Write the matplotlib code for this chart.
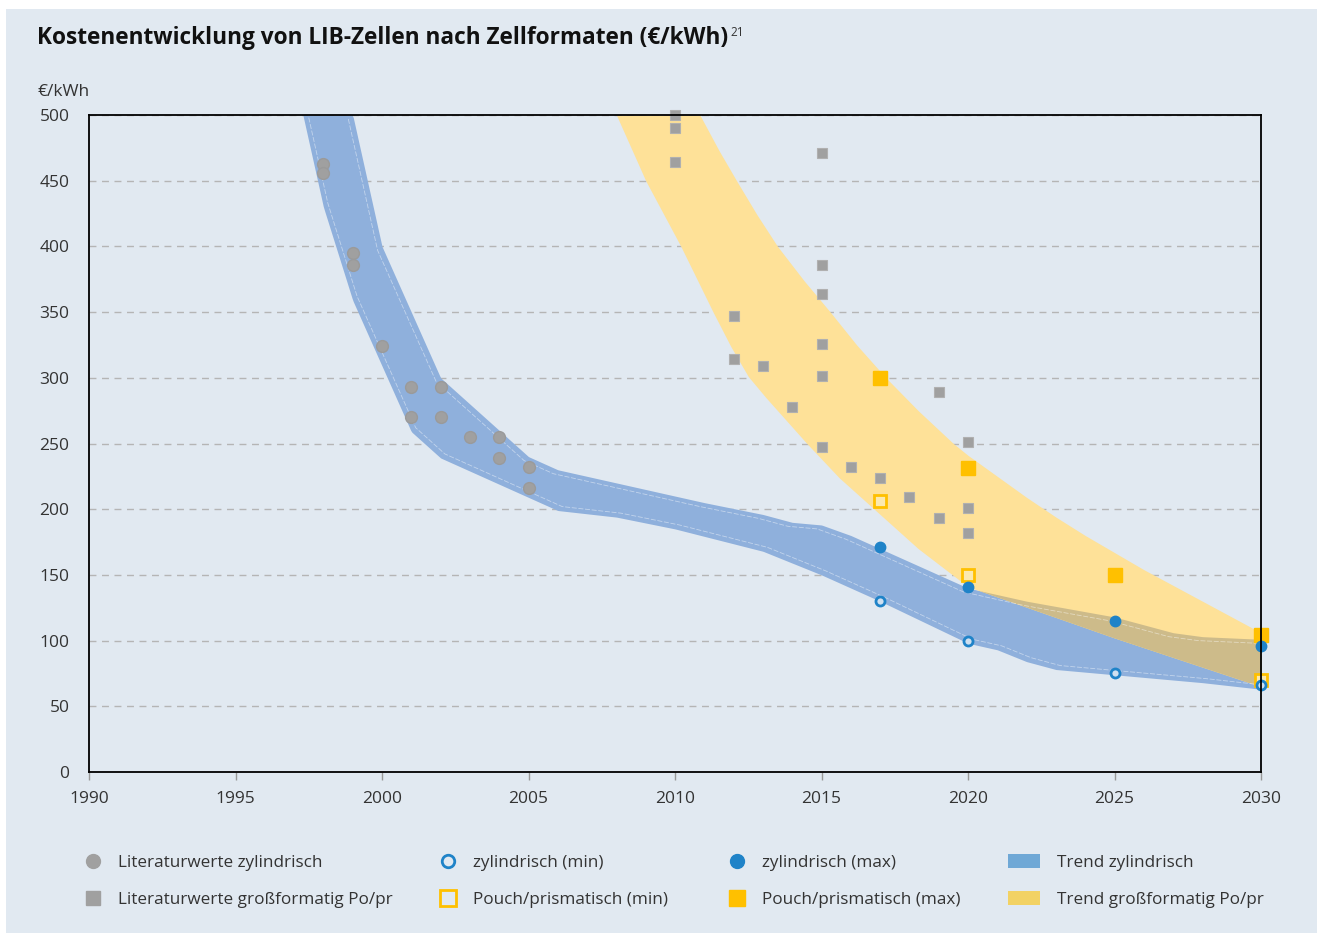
import matplotlib

matplotlib.use("Agg")
import matplotlib.pyplot as plt
import numpy as np
from matplotlib.lines import Line2D
from matplotlib.patches import Patch, Rectangle

plt.rcParams["font.family"] = ["Open Sans", "DejaVu Sans"]

BG = "#e1e9f1"
GRAY = "#a0a0a0"
BLUE = "#1f83c8"
YELLOW = "#ffc000"
BAND_BLUE = "#8fb0dc"
BAND_YELLOW = "#fee198"
OVERLAP = "#cdbb8a"
TEXT = "#333333"

# --- Literaturwerte (Streupunkte) ---
lit_cyl_year = [1998, 1998, 1999, 1999, 2000, 2001, 2002, 2001, 2002, 2003, 2004, 2004, 2005, 2005]
lit_cyl_cost = [463, 456, 395, 386, 324, 293, 293, 270, 270, 255, 255, 239, 232, 216]

lit_big_year = [2010, 2010, 2010, 2015, 2012, 2012, 2013, 2014, 2015, 2015, 2015, 2015, 2015,
                2016, 2017, 2018, 2019, 2019, 2020, 2020, 2020]
lit_big_cost = [500, 490, 464, 471, 347, 314, 309, 278, 386, 364, 326, 301, 247,
                232, 224, 209, 289, 193, 251, 201, 182]

# --- Szenarien ---
cyl_min_year = [2017, 2020, 2025, 2030]
cyl_min_cost = [130, 100, 75.5, 66]
cyl_max_year = [2017, 2020, 2025, 2030]
cyl_max_cost = [171, 140.5, 115, 96]
pouch_min_year = [2017, 2020, 2030]
pouch_min_cost = [206, 150, 70]
pouch_max_year = [2017, 2020, 2025, 2030]
pouch_max_cost = [300, 231, 150, 104]

# --- Trendbänder ---
cyl_up_year = [1999, 2000, 2002, 2005, 2006, 2008, 2010, 2011, 2013, 2014, 2015, 2016, 2017,
               2020, 2022, 2025, 2027, 2028, 2030]
cyl_up_cost = [500, 400, 300, 240, 230, 220, 210, 205, 196, 190, 188, 180, 170,
               140, 130, 118, 106, 103, 101]
cyl_lo_year = [1997.3, 1998, 1999, 2001, 2002, 2004, 2005, 2006, 2008, 2010, 2013, 2015, 2017,
               2020, 2021, 2022, 2023, 2025, 2028, 2030]
cyl_lo_cost = [500, 430, 359, 259, 239, 219, 209, 199, 194, 185, 168, 150, 130,
               98, 93, 84, 78, 74, 68, 63]

big_up_year = [2010.85, 2011.5, 2012.1, 2012.8, 2013.5, 2014.4, 2015.3, 2016.2, 2017.2, 2018.3,
               2019.5, 2020, 2021, 2022, 2023, 2024, 2025, 2026, 2027, 2028, 2029, 2030]
big_up_cost = [500, 473, 450, 424, 400, 374, 350, 325, 300, 275,
               250, 241, 225, 209, 194, 180, 167, 154, 142, 130, 118, 106]
big_lo_year = [2008, 2009, 2010.2, 2011.3, 2011.9, 2012.5, 2013.1, 2013.7, 2014.5, 2015.6,
               2016.8, 2018.3, 2020, 2025, 2030]
big_lo_cost = [500, 450, 400, 350, 324, 301, 285, 270, 250, 224,
               200, 170, 141, 102, 65]

x_ticks = list(range(1990, 2031, 5))
y_ticks = list(range(0, 501, 50))


def band(up_x, up_y, lo_x, lo_y, x_start, x_end):
    xs = np.linspace(x_start, x_end, 800)
    up = np.interp(xs, up_x, up_y, left=500)
    lo = np.interp(xs, lo_x, lo_y)
    return xs, np.minimum(up, 500), np.minimum(lo, 500)


fig = plt.figure(figsize=(13.18, 9.33), dpi=100)
fig.patch.set_facecolor("white")
fig.patches.append(Rectangle((6 / 1318, 0), 1 - 7 / 1318, 1 - 9 / 933,
                             transform=fig.transFigure, facecolor=BG, edgecolor="none", zorder=-10))

ax = fig.add_axes([89 / 1318, 1 - 772 / 933, (1261 - 89) / 1318, (772 - 115) / 933])
ax.set_facecolor(BG)

# Bänder
bx, bup, blo = band(cyl_up_year, cyl_up_cost, cyl_lo_year, cyl_lo_cost, cyl_lo_year[0], 2030)
ax.fill_between(bx, blo, bup, color=BAND_BLUE, lw=0, zorder=2)
gx, gup, glo = band(big_up_year, big_up_cost, big_lo_year, big_lo_cost, big_lo_year[0], 2030)
ax.fill_between(gx, glo, gup, color=BAND_YELLOW, lw=0, zorder=2)

# Überlappung
ox = np.linspace(2019, 2030, 400)
o_up = np.minimum(np.interp(ox, cyl_up_year, cyl_up_cost), np.interp(ox, big_up_year, big_up_cost))
o_lo = np.maximum(np.interp(ox, cyl_lo_year, cyl_lo_cost), np.interp(ox, big_lo_year, big_lo_cost))
ax.fill_between(ox, o_lo, o_up, where=o_up > o_lo, color=OVERLAP, lw=0, zorder=3,
                interpolate=True)

# feine helle Innenlinien im blauen Band
ax.plot(np.array(cyl_up_year) - 0.15, np.array(cyl_up_cost) - 3, color="white", lw=0.6,
        alpha=0.45, ls=(0, (6, 2)), zorder=3)
ax.plot(np.array(cyl_lo_year) + 0.15, np.array(cyl_lo_cost) + 3, color="white", lw=0.6,
        alpha=0.45, ls=(0, (6, 2)), zorder=3)

# Punkte
ax.plot(lit_cyl_year, lit_cyl_cost, "o", color=GRAY, ms=8.5, mec="#9a9a9a", ls="none", zorder=5)
ax.plot(lit_big_year, lit_big_cost, "s", color=GRAY, ms=7.5, mec="#b0b0b0", mew=0.8,
        ls="none", zorder=5, clip_on=False)
ax.plot(pouch_max_year, pouch_max_cost, "s", color=YELLOW, ms=9.5, mec=YELLOW, ls="none",
        zorder=6, clip_on=False)
ax.plot(pouch_min_year, pouch_min_cost, "s", mfc="#fbe9b0", mec=YELLOW, ms=9, mew=2,
        ls="none", zorder=6, clip_on=False)
ax.plot(cyl_max_year, cyl_max_cost, "o", color=BLUE, ms=7.5, ls="none", zorder=7, clip_on=False)
ax.plot(cyl_min_year, cyl_min_cost, "o", mfc="#cfe0f0", mec=BLUE, ms=6.5, mew=2,
        ls="none", zorder=7, clip_on=False)

ax.set_xlim(1990, 2030)
ax.set_ylim(0, 500)
ax.set_xticks(x_ticks)
ax.set_yticks(y_ticks)
ax.tick_params(axis="x", length=6, width=1, color="#999999", labelcolor=TEXT, labelsize=12.5, pad=8)
ax.tick_params(axis="y", length=0, labelcolor=TEXT, labelsize=12.5, pad=14)
ax.yaxis.grid(True, color="#b5b5b5", ls=(0, (5, 4)), lw=1)
ax.set_axisbelow(True)
for s in ax.spines.values():
    s.set_color("black")
    s.set_linewidth(1.3)
    s.set_zorder(8)

title = fig.text(37 / 1318, 1 - 38 / 933, "Kostenentwicklung von LIB-Zellen nach Zellformaten (€/kWh)",
                 fontsize=16.3, fontweight="bold", color="#111111", va="center", ha="left")
fig.canvas.draw()
bb = title.get_window_extent()
fig.text((bb.x1 + 2) / 1318, 1 - 33 / 933, "21", fontsize=8.5, color=TEXT, va="center", ha="left")
fig.text(38 / 1318, 1 - 92 / 933, "€/kWh", fontsize=12.5, color=TEXT, va="center", ha="left")

# Legende in vier Spalten
cols = [
    [Line2D([], [], marker="o", color=GRAY, ls="none", ms=10, label="Literaturwerte zylindrisch"),
     Line2D([], [], marker="s", color=GRAY, ls="none", ms=10, label="Literaturwerte großformatig Po/pr")],
    [Line2D([], [], marker="o", mfc="none", mec=BLUE, mew=2, ls="none", ms=9, label="zylindrisch (min)"),
     Line2D([], [], marker="s", mfc="none", mec=YELLOW, mew=2, ls="none", ms=11, label="Pouch/prismatisch (min)")],
    [Line2D([], [], marker="o", color=BLUE, ls="none", ms=10, label="zylindrisch (max)"),
     Line2D([], [], marker="s", color=YELLOW, ls="none", ms=11, label="Pouch/prismatisch (max)")],
]
col_x = [79, 434, 723]
legend_top = 1 - 855 / 933
for handles, x in zip(cols, col_x):
    fig.legend(handles=handles, loc="upper left", bbox_to_anchor=(x / 1318, legend_top),
               frameon=False, fontsize=12.3, labelcolor=TEXT, handlelength=1.6,
               handletextpad=0.7, labelspacing=1.25, borderaxespad=0, borderpad=0)
trend = [Patch(facecolor="#6fa8d6", label="Trend zylindrisch"),
         Patch(facecolor="#f2d264", label="Trend großformatig Po/pr")]
fig.legend(handles=trend, loc="upper left", bbox_to_anchor=(1008 / 1318, legend_top + 1 / 933),
           frameon=False, fontsize=12.3, labelcolor=TEXT, handlelength=1.85, handleheight=0.9,
           handletextpad=1.0, labelspacing=1.15, borderaxespad=0, borderpad=0)

fig.savefig("out.png", dpi=100, facecolor=fig.get_facecolor())
